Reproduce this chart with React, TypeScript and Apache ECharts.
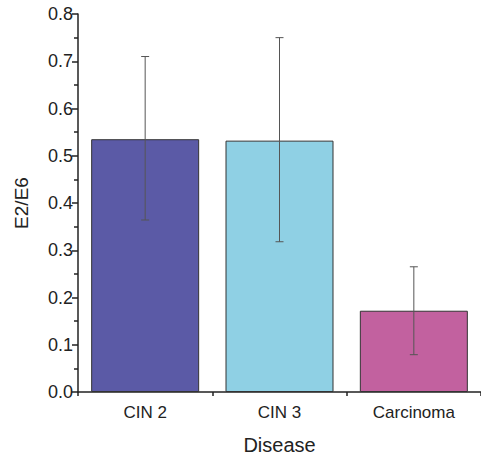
import React, { useEffect, useRef } from "react";
import * as echarts from "echarts";

const categories = ["CIN 2", "CIN 3", "Carcinoma"];
const meanValues = [0.535, 0.532, 0.172];
const errLow = [0.364, 0.318, 0.079];
const errHigh = [0.71, 0.75, 0.265];
const barColors = ["#5B5AA6", "#8FD0E4", "#C2619F"];
const yTicks = [0, 0.1, 0.2, 0.3, 0.4, 0.5, 0.6, 0.7, 0.8];

export default function App() {
  const ref = useRef<HTMLDivElement>(null);
  useEffect(() => {
    if (!ref.current) return;
    const chart = echarts.init(ref.current, null, { renderer: "svg" });
    const font = "Liberation Sans, Arial, sans-serif";
    const errData = categories.map((c, i) => [i, errLow[i], errHigh[i]]);
    chart.setOption({
      animation: false,
      grid: { left: 78, top: 14, bottom: 65, width: 405 },
      xAxis: [
        {
          type: "category",
          data: categories,
          axisLine: { lineStyle: { color: "#222", width: 1.5 } },
          axisTick: { alignWithLabel: true, length: 6, lineStyle: { color: "#222", width: 1.5 } },
          axisLabel: { color: "#222", fontSize: 17, fontFamily: font, margin: 12 },
          name: "Disease",
          nameLocation: "middle",
          nameGap: 43,
          nameTextStyle: { color: "#222", fontSize: 20, fontFamily: font },
        },
        {
          type: "value",
          min: 0,
          max: 3,
          interval: 1,
          position: "bottom",
          axisLine: { show: false },
          axisTick: { show: true, length: 4, lineStyle: { color: "#222", width: 1.5 } },
          axisLabel: { show: false },
          splitLine: { show: false },
        },
      ],
      yAxis: {
        type: "value",
        min: yTicks[0],
        max: yTicks[yTicks.length - 1],
        interval: 0.1,
        axisLine: { show: true, lineStyle: { color: "#222", width: 1.5 } },
        axisTick: { show: true, length: 6, lineStyle: { color: "#222", width: 1.5 } },
        minorTick: { show: true, splitNumber: 2, length: 4, lineStyle: { color: "#222", width: 1.5 } },
        splitLine: { show: false },
        axisLabel: {
          color: "#222",
          fontSize: 18,
          fontFamily: font,
          margin: 5,
          formatter: (v: number) => v.toFixed(1),
        },
        name: "E2/E6",
        nameLocation: "middle",
        nameGap: 47,
        nameTextStyle: { color: "#222", fontSize: 19, fontFamily: font },
      },
      series: [
        {
          type: "bar",
          xAxisIndex: 0,
          barWidth: 108,
          data: meanValues.map((v, i) => ({
            value: v,
            itemStyle: { color: barColors[i], borderColor: "#333", borderWidth: 1 },
          })),
        },
        {
          type: "custom",
          xAxisIndex: 0,
          data: errData,
          z: 10,
          renderItem: (params: any, api: any) => {
            const x = api.value(0);
            const lo = api.coord([x, api.value(1)]);
            const hi = api.coord([x, api.value(2)]);
            const cap = 4;
            const style = { stroke: "#555", lineWidth: 1 };
            return {
              type: "group",
              children: [
                { type: "line", shape: { x1: hi[0], y1: hi[1], x2: lo[0], y2: lo[1] }, style },
                { type: "line", shape: { x1: hi[0] - cap, y1: hi[1], x2: hi[0] + cap, y2: hi[1] }, style },
                { type: "line", shape: { x1: lo[0] - cap, y1: lo[1], x2: lo[0] + cap, y2: lo[1] }, style },
              ],
            };
          },
        },
      ],
    });
    return () => chart.dispose();
  }, []);
  return (
    <div
      ref={ref}
      style={{ position: "absolute", left: 0, top: 0, width: 481, height: 460 }}
    />
  );
}
